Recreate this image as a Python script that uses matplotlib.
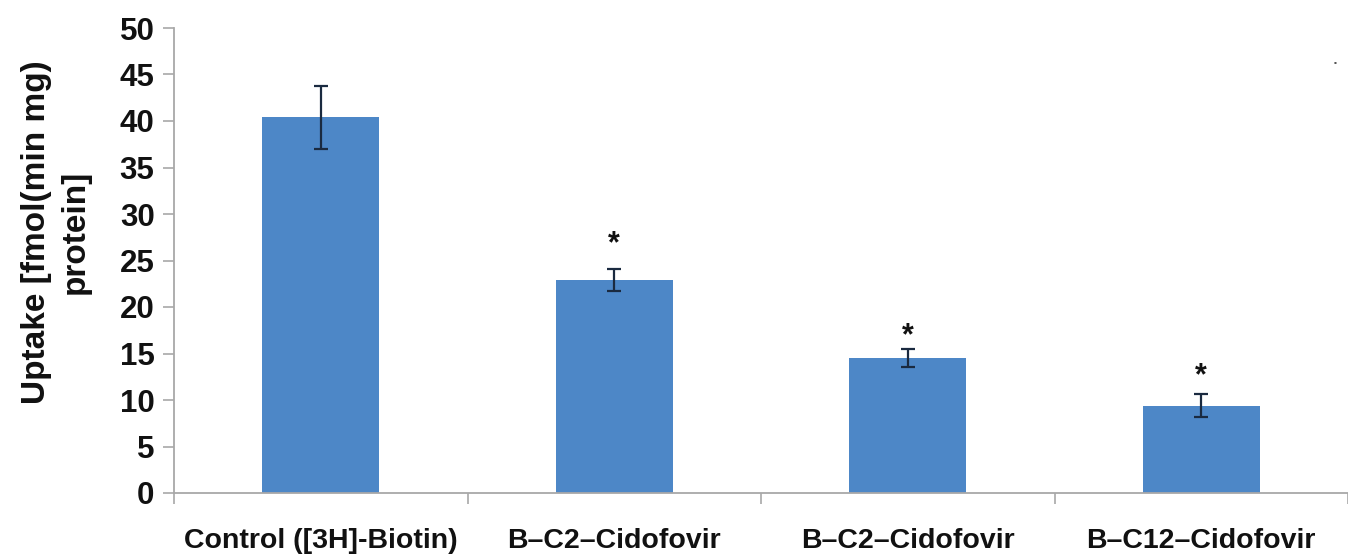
import matplotlib
matplotlib.use("Agg")
import matplotlib.pyplot as plt
import numpy as np

categories = ["Control ([3H]-Biotin)", "B\u2013C2\u2013Cidofovir",
              "B\u2013C2\u2013Cidofovir", "B\u2013C12\u2013Cidofovir"]
uptake = [40.4, 22.9, 14.5, 9.4]
errors = [3.4, 1.2, 1.0, 1.2]
star_y = [None, 26.8, 16.9, 12.6]
y_ticks = list(range(0, 51, 5))

plt.rcParams["font.family"] = ["Liberation Sans", "DejaVu Sans"]

W, H = 1348, 559
fig = plt.figure(figsize=(W / 100, H / 100), dpi=100)
left, right, bottom, top = 174, 1348, 493, 28
ax = fig.add_axes([left / W, (H - bottom) / H, (right - left) / W, (bottom - top) / H])

x = np.arange(len(categories))
ax.bar(x, uptake, width=0.4, color="#4D87C7", zorder=2)
ax.errorbar(x, uptake, yerr=errors, fmt="none", ecolor="#1a2a40",
            elinewidth=1.6, capsize=5, capthick=1.6, zorder=3)
for xi, sy in zip(x, star_y):
    if sy is not None:
        ax.text(xi, sy, "*", ha="center", va="center", fontsize=22,
                fontweight="bold", color="#111111")

ax.set_ylim(0, 50)
ax.set_xlim(-0.5, 3.5 - 6 / 295)
ax.set_yticks(y_ticks)
ax.set_yticklabels([str(v) for v in y_ticks], fontsize=22.5, fontweight="bold",
                   color="#111111")

# category labels centred under bars, ticks on category boundaries
ax.set_xticks(x)
ax.set_xticklabels(categories, fontsize=20.5, fontweight="bold", color="#111111")
ax.tick_params(axis="x", which="major", length=0, pad=25)
ax.set_xticks(np.arange(-0.5, 3.6, 1.0), minor=True)
ax.tick_params(axis="x", which="minor", length=8, width=1.2, color="#a8a8a8")
ax.tick_params(axis="y", length=8, width=1.2, color="#a8a8a8", pad=6)

for s in ["top", "right"]:
    ax.spines[s].set_visible(False)
for s in ["left", "bottom"]:
    ax.spines[s].set_color("#a8a8a8")
    ax.spines[s].set_linewidth(1.3)

fig.text(56 / W, 1 - 232 / H, "Uptake [fmol(min mg)\nprotein]", rotation=90,
         ha="center", va="center", fontsize=24, fontweight="bold",
         color="#111111", linespacing=1.3, multialignment="center")

fig.text(1335 / W, 1 - 63 / H, "\u25aa", fontsize=6, color="#555555",
         ha="center", va="center")

fig.savefig("out.png", dpi=100)
